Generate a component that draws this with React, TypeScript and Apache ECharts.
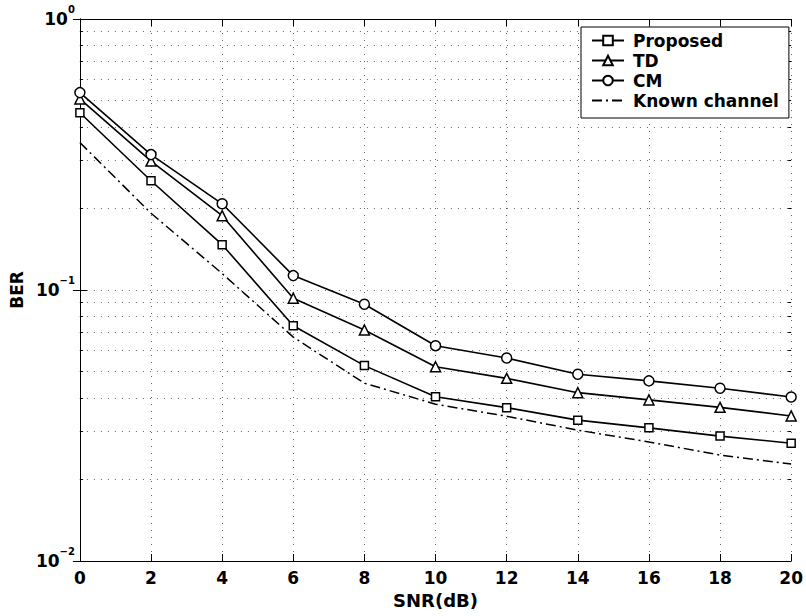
import React, { useEffect, useRef } from "react";
import * as echarts from "echarts";

const snr = [0, 2, 4, 6, 8, 10, 12, 14, 16, 18, 20];
const proposed = [0.451, 0.253, 0.147, 0.0738, 0.0526, 0.0404, 0.0368, 0.0331, 0.031, 0.0289, 0.0272];
const td = [0.507, 0.299, 0.188, 0.0932, 0.0712, 0.0521, 0.0472, 0.0418, 0.0393, 0.0369, 0.0343];
const cm = [0.535, 0.316, 0.208, 0.113, 0.0886, 0.0623, 0.0561, 0.0489, 0.0462, 0.0434, 0.0403];
const known = [0.35, 0.192, 0.115, 0.067, 0.0453, 0.0379, 0.0342, 0.0304, 0.0275, 0.0246, 0.0228];
const seriesNames = ["Proposed", "TD", "CM", "Known channel"];
const yTickLabels: Record<string, string> = { "0.01": "{b|10}{s|\u22122}", "0.1": "{b|10}{s|\u22121}", "1": "{b|10}{s|0}" };
const minorY = [0.02, 0.03, 0.04, 0.05, 0.06, 0.07, 0.08, 0.09, 0.2, 0.3, 0.4, 0.5, 0.6, 0.7, 0.8, 0.9];

const FONT = "DejaVu Sans";

export default function App() {
  const ref = useRef<HTMLDivElement>(null);
  useEffect(() => {
    if (!ref.current) return;
    const chart = echarts.init(ref.current, null, { renderer: "svg" });
    const pair = (arr: number[]) => snr.map((x, i) => [x, arr[i]]);
    const dotted = { color: "#666", width: 1, type: [1, 6] as number[] };
    const tickLen = 0.085;
    const lineBase = (name: string, data: number[], symbol: string, size: number) => ({
      name,
      type: "line",
      data: pair(data),
      symbol,
      symbolSize: size,
      showSymbol: true,
      lineStyle: { color: "#000", width: 1.6 },
      itemStyle: { color: "#fff", borderColor: "#000", borderWidth: 1.5 },
      z: 5,
    });
    chart.setOption({
      animation: false,
      backgroundColor: "#fff",
      grid: { left: 76, right: 10, top: 19, bottom: 55 },
      legend: {
        data: [
          "Proposed",
          "TD",
          "CM",
          { name: seriesNames[3], itemStyle: { opacity: 0 } },
        ],
        orient: "vertical",
        left: 581,
        top: 27,
        padding: [5, 10, 9, 10],
        itemWidth: 32,
        itemHeight: 12,
        itemGap: 3,
        backgroundColor: "#fff",
        borderColor: "#000",
        borderWidth: 1,
        borderRadius: 0,
        textStyle: { fontFamily: FONT, fontWeight: "bold", fontSize: 17, lineHeight: 14, color: "#000", padding: [0, 0, 0, 4] },
        z: 10,
      },
      xAxis: [
        {
          type: "value",
          min: 0,
          max: 20,
          interval: 2,
          name: "SNR(dB)",
          nameLocation: "middle",
          nameGap: 30,
          nameTextStyle: { fontFamily: FONT, fontWeight: "bold", fontSize: 18, color: "#000" },
          axisLine: { show: true, lineStyle: { color: "#000", width: 1 } },
          axisTick: { show: true, inside: true, length: 7, lineStyle: { color: "#000" } },
          axisLabel: { fontFamily: FONT, fontWeight: "bold", fontSize: 17, color: "#000", margin: 8 },
          splitLine: { show: true, lineStyle: dotted },
        },
        {
          type: "value",
          position: "top",
          min: 0,
          max: 20,
          interval: 2,
          axisLine: { show: true, lineStyle: { color: "#000", width: 1 } },
          axisTick: { show: true, inside: true, length: 7, lineStyle: { color: "#000" } },
          axisLabel: { show: false },
          splitLine: { show: false },
        },
      ],
      yAxis: [
        {
          type: "log",
          logBase: 10,
          min: 0.01,
          max: 1,
          name: "BER",
          nameLocation: "middle",
          nameGap: 51,
          nameRotate: 90,
          nameTextStyle: { fontFamily: FONT, fontWeight: "bold", fontSize: 17, color: "#000" },
          axisLine: { show: true, lineStyle: { color: "#000", width: 1 } },
          axisTick: { show: true, inside: true, length: 7, lineStyle: { color: "#000" } },
          axisLabel: {
            margin: 5,
            color: "#000",
            formatter: (v: number) => yTickLabels[String(+v.toPrecision(3))] ?? "",
            rich: {
              b: { fontFamily: FONT, fontWeight: "bold", fontSize: 17, lineHeight: 30, color: "#000" },
              s: { fontFamily: FONT, fontWeight: "bold", fontSize: 10, lineHeight: 12, verticalAlign: "top", color: "#000" },
            },
          },
          splitLine: { show: true, lineStyle: dotted },
        },
        {
          type: "log",
          logBase: 10,
          min: 0.01,
          max: 1,
          position: "right",
          axisLine: { show: true, lineStyle: { color: "#000", width: 1 } },
          axisTick: { show: true, inside: true, length: 7, lineStyle: { color: "#000" } },
          axisLabel: { show: false },
          splitLine: { show: false },
        },
      ],
      series: [
        {
          name: "grid-minor",
          type: "line",
          data: [],
          silent: true,
          markLine: {
            silent: true,
            symbol: ["none", "none"],
            label: { show: false },
            lineStyle: dotted,
            data: minorY.map((v) => ({ yAxis: v })),
          },
        },
        {
          name: "tick-minor",
          type: "line",
          data: [],
          silent: true,
          markLine: {
            silent: true,
            symbol: ["none", "none"],
            label: { show: false },
            lineStyle: { color: "#000", width: 1, type: "solid" },
            data: [
              ...minorY.map((v) => [{ coord: [0, v] }, { coord: [tickLen, v] }]),
              ...minorY.map((v) => [{ coord: [20 - tickLen, v] }, { coord: [20, v] }]),
            ],
          },
        },
        lineBase("Proposed", proposed, "rect", 8),
        lineBase("TD", td, "triangle", 10),
        lineBase("CM", cm, "circle", 10),
        {
          name: "Known channel",
          type: "line",
          data: pair(known),
          symbol: "none",
          lineStyle: { color: "#000", width: 1.5, type: [10, 4, 2, 4] },
          itemStyle: { color: "#000" },
          z: 5,
        },
      ],
    });
    return () => chart.dispose();
  }, []);
  return <div ref={ref} style={{ position: "fixed", left: 0, top: 0, width: 806, height: 616 }} />;
}
